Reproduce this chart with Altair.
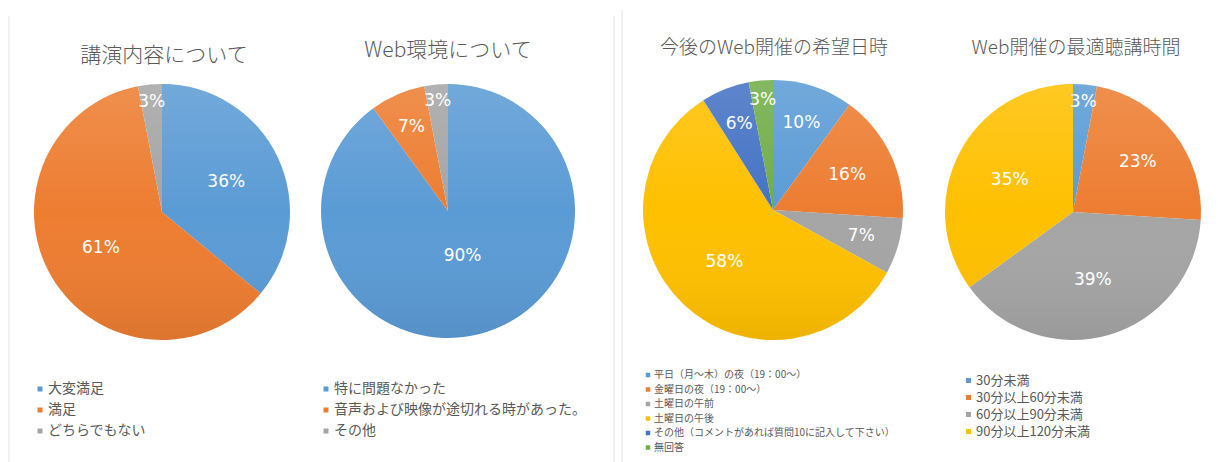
import math
import altair as alt
import pandas as pd

# ---- data ----
cats1 = ["大変満足", "満足", "どちらでもない"]
vals1 = [36, 61, 3]
cats2 = ["特に問題なかった", "音声および映像が途切れる時があった。", "その他"]
vals2 = [90, 7, 3]
cats3 = ["平日（月～木）の夜（19：00～）", "金曜日の夜（19：00～）", "土曜日の午前", "土曜日の午後",
         "その他（コメントがあれば質問10に記入して下さい）", "無回答"]
vals3 = [10, 16, 7, 58, 6, 3]
cats4 = ["30分未満", "30分以上60分未満", "60分以上90分未満", "90分以上120分未満"]
vals4 = [3, 23, 39, 35]

titles = ["講演内容について", "Web環境について", "今後のWeb開催の希望日時", "Web開催の最適聴講時間"]

BLUE, ORANGE, GRAY, YELLOW, DBLUE, GREEN = "#5B9BD5", "#ED7D31", "#A5A5A5", "#FFC000", "#4472C4", "#70AD47"

JP = "Noto Sans CJK JP"
TXT = "#595959"

layers = []


def pie(key, cats, vals, colors, cx, cy, r, title, tx, ty, tsize,
        lx, ly, lfont, lrow, lsym):
    df = pd.DataFrame({"cat": cats, "pct": vals, "idx": list(range(len(cats)))})
    base = alt.Chart(df).transform_window(
        cum="sum(pct)", sort=[alt.SortField("idx")], frame=[None, 0]
    ).transform_joinaggregate(total="sum(pct)").transform_calculate(
        t0="(datum.cum - datum.pct) / datum.total * 2 * PI",
        t1="datum.cum / datum.total * 2 * PI",
    ).transform_calculate(
        mid="(datum.t0 + datum.t1) / 2",
        lr="datum.pct >= 80 ? 47 : datum.pct >= 30 ? 71 : datum.pct >= 12 ? 82 : datum.pct >= 5 ? 92 : 110",
        label="datum.pct + '%'",
    )
    slices = base.mark_arc(radius=r).encode(
        x=alt.value(cx), y=alt.value(cy),
        theta=alt.Theta("t0:Q", scale=None), theta2="t1:Q",
        color=alt.Color(
            "cat:N",
            sort=cats,
            scale=alt.Scale(domain=cats, range=colors),
            legend=alt.Legend(
                title=None, orient="none", legendX=lx, legendY=ly,
                symbolType="square", symbolSize=lsym, symbolStrokeWidth=0,
                labelFontSize=lfont, labelColor=TXT, labelFont=JP,
                rowPadding=lrow, labelLimit=500, labelOffset=1,
                direction="vertical",
            ),
        ),
    )
    overlay = alt.Chart(pd.DataFrame({"k": [key]})).mark_arc(
        radius=r, theta=0, theta2=2 * math.pi,
        fill=alt.LinearGradient(
            gradient="linear", x1=0, x2=0, y1=0, y2=1,
            stops=[
                alt.GradientStop(color="rgba(255,255,255,0.14)", offset=0),
                alt.GradientStop(color="rgba(255,255,255,0)", offset=0.5),
                alt.GradientStop(color="rgba(0,0,0,0.07)", offset=1),
            ],
        ),
    ).encode(x=alt.value(cx), y=alt.value(cy))
    labels = base.mark_text(color="white", fontSize=17, font="DejaVu Sans").encode(
        x=alt.value(cx), y=alt.value(cy),
        theta=alt.Theta("mid:Q", scale=None),
        radius=alt.Radius("lr:Q", scale=None),
        text="label:N",
    )
    ttl = alt.Chart(pd.DataFrame({"t": [title]})).mark_text(
        fontSize=tsize, font=JP, fontWeight=300, color=TXT, align="center", baseline="middle"
    ).encode(text="t:N", x=alt.value(tx), y=alt.value(ty))
    layers.extend([slices, overlay, labels, ttl])


pie("p1", cats1, vals1, [BLUE, ORANGE, GRAY], 162, 212, 128, titles[0], 164, 56, 21,
    33, 382, 14, 7, 25)
pie("p2", cats2, vals2, [BLUE, ORANGE, GRAY], 448, 211, 127, titles[1], 448, 51, 21,
    319, 382, 14, 7, 25)
pie("p3", cats3, vals3, [BLUE, ORANGE, GRAY, YELLOW, DBLUE, GREEN], 773, 210, 130, titles[2], 774, 48, 19,
    643, 370, 10, 4.5, 20)
pie("p4", cats4, vals4, [BLUE, ORANGE, GRAY, YELLOW], 1073, 212, 128, titles[3], 1076, 48, 19,
    962, 374, 13, 3, 25)

one = pd.DataFrame({"k": [0]})
for xx, yy in [(9, 16), (614, 16), (622, 10)]:
    layers.append(
        alt.Chart(one).mark_rule(color="#E3E3E3", strokeWidth=1).encode(
            x=alt.value(xx), y=alt.value(yy), y2=alt.value(462)
        )
    )

chart = alt.layer(*layers).resolve_scale(color="independent").properties(
    width=1218, height=462, padding=0, autosize=alt.AutoSizeParams(type="none"),
    background="white",
).configure_view(stroke=None)

chart.save("out.html", embed_options={"renderer": "svg", "actions": False})
